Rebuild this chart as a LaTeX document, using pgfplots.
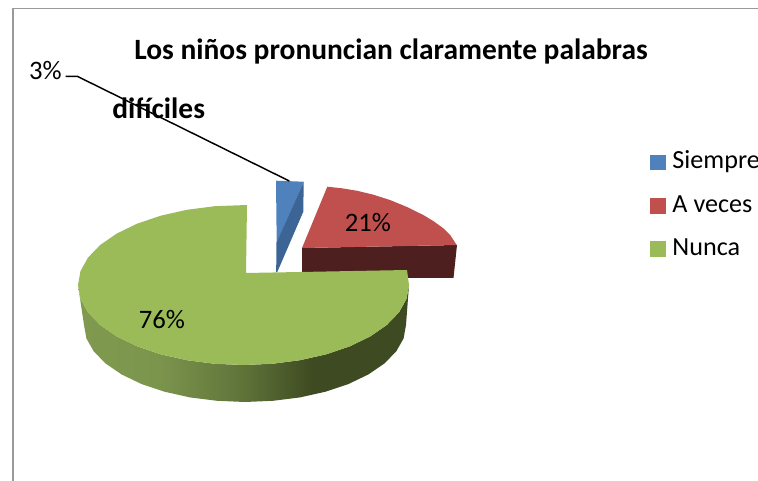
\documentclass[border=0pt]{standalone}
\usepackage{fontspec}
\setmainfont{Carlito}
\usepackage{pgfplots}
\pgfplotsset{compat=1.18}
\definecolor{cblue}{HTML}{4F81BD}
\definecolor{cbluedark}{HTML}{3C6595}
\definecolor{cred}{HTML}{C0504D}
\definecolor{creddark}{HTML}{4D1F1F}
\definecolor{cgreen}{HTML}{9BBB59}
\definecolor{cframe}{HTML}{9A9A9A}
\definecolor{gsa}{HTML}{7F9A4F}
\definecolor{gsb}{HTML}{7C954D}
\definecolor{gsc}{HTML}{5F7339}
\definecolor{gsd}{HTML}{3E4A21}
\pgfdeclarehorizontalshading{greenside}{100bp}{
 color(0bp)=(gsa);
 color(25bp)=(gsa);
 color(37bp)=(gsb);
 color(50bp)=(gsc);
 color(60.5bp)=(gsd);
 color(75bp)=(gsd);
 color(100bp)=(gsd)}
\begin{document}
\begin{tikzpicture}[x=1pt,y=1pt]
\clip (0,0) rectangle (568.5pt,360.75pt);
\begin{axis}[at={(0,0)},anchor=south west,scale only axis,width=568.5pt,height=360.75pt,
 xmin=0,xmax=758,ymin=0,ymax=481,y dir=reverse,hide axis,clip=false,
 legend cell align=left,
 legend style={at={(axis cs:650,152)},anchor=north west,draw=none,fill=none,
  font=\fontsize{19.6}{19.6}\selectfont,row sep=16pt,column sep=5pt,inner sep=0pt,
  nodes={text height=12.5pt,text depth=4pt,inner sep=0pt,outer sep=0pt,anchor=base west}},
 legend image code/.code={\fill[#1] (0pt,-0.6pt) rectangle (11.25pt,10.6pt);},
 /pgfplots/legend plot pos=left]
% frame
\addplot[cframe,line width=1.3pt,forget plot] coordinates {(12.7,481)(12.7,8.5)(758,8.5)};
% red wall
\addplot[creddark,fill=creddark,draw=none,forget plot] coordinates {(302,248)(457,245)(453.5,278)(302,278)} --cycle;
% red top
\addplot[cred,fill=cred,draw=none,forget plot] coordinates {(302,248)(327.3,186.7)(342,188.3)(356.7,190.7)(373,194.6)(390,200)(407,207)(423.3,215)(434,221.5)(443.3,228.3)(450.5,235.5)(456.7,245)} --cycle;
% blue
\addplot[cblue,fill=cblue,draw=none,forget plot] coordinates {(276,180.7)(303.7,181.7)(276.7,243)} --cycle;
\addplot[cbluedark,fill=cbluedark,draw=none,forget plot] coordinates {(303.7,181.7)(303.3,211.7)(277.3,272)(276.2,272)(276.4,243)} --cycle;
% green side
\addplot[shade,shading=greenside,draw=none,forget plot] coordinates {
(409,285)(406.5,298.9)(399,312.4)(386.8,325)(370.3,336.4)(349.9,346.3)(326.3,354.3)(300.1,360.2)(272.2,363.8)(243.5,365)(214.8,363.8)(186.9,360.2)(160.7,354.3)(137.1,346.3)(116.7,336.4)(100.2,325)(88,312.4)(80.5,298.9)(78,285)
(84,325)(86.4,338.4)(93.7,351.3)(105.6,363.5)(121.7,374.5)(141.5,384)(164.5,391.7)(189.9,397.4)(217,400.8)(245,402)(273,400.8)(300.1,397.4)(325.5,391.7)(348.5,384)(368.3,374.5)(384.4,363.5)(396.3,351.3)(403.6,338.4)(406,325)} --cycle;
% green top
\addplot[cgreen,fill=cgreen,draw=none,forget plot] coordinates {
(246,273)(407,270)(409,285)(406.5,298.9)(399,312.4)(386.8,325)(370.3,336.4)(349.9,346.3)(326.3,354.3)(300.1,360.2)(272.2,363.8)(243.5,365)(214.8,363.8)(186.9,360.2)(160.7,354.3)(137.1,346.3)(116.7,336.4)(100.2,325)(88,312.4)(80.5,298.9)(78,285)(80.5,271.1)(88,257.6)(100.2,245)(116.7,233.6)(137.1,223.7)(160.7,215.7)(186.9,209.8)(214.8,206.2)(247,205)} --cycle;
% leader
\addplot[black,line width=1.1pt,forget plot] coordinates {(65.7,76.3)(77.3,76.3)(289.3,181)};
% legend
\addlegendimage{cblue}\addlegendentry{Siempre}
\addlegendimage{cred}\addlegendentry{A veces}
\addlegendimage{cgreen}\addlegendentry{Nunca}
% text
\node[anchor=base west,inner sep=0pt,font=\fontsize{22.1}{22.1}\selectfont\bfseries] at (axis cs:134,60) {Los niños pronuncian claramente palabras};
\node[anchor=base west,inner sep=0pt,font=\fontsize{22.1}{22.1}\selectfont\bfseries] at (axis cs:112,118.5) {difíciles};
\node[inner sep=0pt,font=\fontsize{20}{20}\selectfont] at (axis cs:45.5,71) {3\%};
\node[inner sep=0pt,font=\fontsize{20}{20}\selectfont] at (axis cs:368,223) {21\%};
\node[inner sep=0pt,font=\fontsize{20}{20}\selectfont] at (axis cs:162,320) {76\%};
\end{axis}
\end{tikzpicture}
\end{document}
